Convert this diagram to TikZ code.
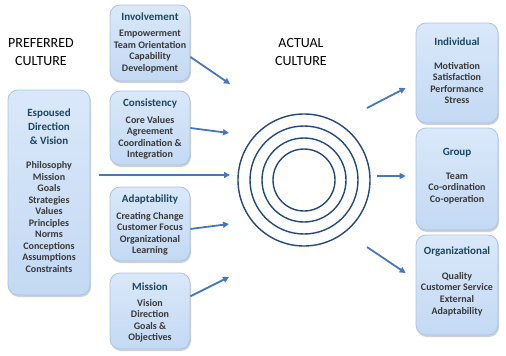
\documentclass[tikz,border=0pt]{standalone}
\usepackage{fontspec}
\setmainfont{Carlito}
\usetikzlibrary{positioning,arrows.meta,shadows}

\definecolor{boxtop}{HTML}{DAE8FA}
\definecolor{boxbot}{HTML}{C3D9F3}
\definecolor{boxline}{HTML}{A9C4E4}
\definecolor{headblue}{HTML}{1A4763}
\definecolor{bodygray}{HTML}{383838}
\definecolor{arrowblue}{HTML}{4677B8}
\definecolor{ringblue}{HTML}{22497A}

\tikzset{
  culturebox/.style={draw=boxline,line width=0.8pt,rounded corners=10pt,
    top color=boxtop,bottom color=boxbot,
    drop shadow={shadow xshift=1pt,shadow yshift=-2pt,opacity=0.3,fill=black!60}},
  boxhead/.style={text=headblue,font=\bfseries\fontsize{11}{14}\selectfont,align=center,inner sep=0pt},
  boxbody/.style={text=bodygray,font=\bfseries\fontsize{10}{11.55}\selectfont,align=center,inner sep=0pt},
  bigtitle/.style={font=\fontsize{14}{18}\selectfont,align=center,inner sep=0pt},
  flow/.style={-{Triangle[length=6pt,width=6pt]},arrowblue,line width=1.8pt},
  ring/.style={circle,draw=ringblue,line width=1.4pt,inner sep=0pt}
}

\begin{document}
\begin{tikzpicture}[x=1pt,y=-1pt]
\useasboundingbox (0,0) rectangle (506,356);

% headings
\node[bigtitle] (pref) at (41,52) {PREFERRED\\CULTURE};
\node[bigtitle] (act) at (301,52) {ACTUAL\\CULTURE};

% espoused direction
\node[culturebox,minimum width=82pt,minimum height=205pt] (esp) at (49,192.5) {};
\node[boxhead] (espT) at (49,127) {Espoused\\Direction\\\& Vision};
\node[boxbody] (espB) at (49,217) {Philosophy\\Mission\\Goals\\Strategies\\Values\\Principles\\Norms\\Conceptions\\Assumptions\\Constraints};

% the four traits
\node[culturebox,minimum width=80pt,minimum height=76pt] (inv) at (150,43) {};
\node[boxhead] (invT) at (150,17) {Involvement};
\node[boxbody] (invB) at (150,51.5) {Empowerment\\Team Orientation\\Capability\\Development};

\node[culturebox,minimum width=80pt,minimum height=74pt] (cons) at (150,128) {};
\node[boxhead] (consT) at (150,104) {Consistency};
\node[boxbody] (consB) at (150,138) {Core Values\\Agreement\\Coordination \&\\Integration};

\node[culturebox,minimum width=80pt,minimum height=74pt] (adap) at (150,224) {};
\node[boxhead] (adapT) at (150,200) {Adaptability};
\node[boxbody] (adapB) at (150,234) {Creating Change\\Customer Focus\\Organizational\\Learning};

\node[culturebox,minimum width=80pt,minimum height=76pt] (miss) at (150,311) {};
\node[boxhead] (missT) at (150,287) {Mission};
\node[boxbody] (missB) at (150,321) {Vision\\Direction\\Goals \&\\Objectives};

% outcomes
\node[culturebox,minimum width=82pt,minimum height=100pt] (ind) at (457,73) {};
\node[boxhead] (indT) at (457,42) {Individual};
\node[boxbody] (indB) at (457,83) {Motivation\\Satisfaction\\Performance\\Stress};

\node[culturebox,minimum width=82pt,minimum height=102pt] (grp) at (457,179) {};
\node[boxhead] (grpT) at (457,153) {Group};
\node[boxbody] (grpB) at (457,188.5) {Team\\Co-ordination\\Co-operation};

\node[culturebox,minimum width=82pt,minimum height=100pt] (org) at (457,285) {};
\node[boxhead] (orgT) at (457,252) {Organizational};
\node[boxbody] (orgB) at (457,294) {Quality\\Customer Service\\External\\Adaptability};

% actual culture rings
\foreach \r [count=\i] in {132,108,84,62}
  \node[ring,minimum size=\r pt] (ring\i) at (304,180) {};

% arrow ends near the rings
\coordinate (inIn) at (230,84);
\coordinate (inCons) at (229,133);
\coordinate (inEsp) at (230,175);
\coordinate (inAdap) at (229,224);
\coordinate (inMiss) at (229,277);
\coordinate (outInd) at (367,108);
\coordinate (outGrp) at (377,176);
\coordinate (outOrg) at (367,247);

\draw[flow] (inv.-19) -- (inIn);
\draw[flow] (cons.east) -- (inCons);
\draw[flow] ([xshift=9pt,yshift=17.5pt]esp.east) -- (inEsp);
\draw[flow] (adap.-7) -- (inAdap);
\draw[flow] (miss.20) -- (inMiss);
\draw[flow] (outInd) -- ([xshift=-10pt,yshift=-15pt]ind.west);
\draw[flow] (outGrp) -- ([xshift=-10pt,yshift=3pt]grp.west);
\draw[flow] (outOrg) -- ([xshift=-10pt,yshift=12pt]org.west);
\end{tikzpicture}
\end{document}
